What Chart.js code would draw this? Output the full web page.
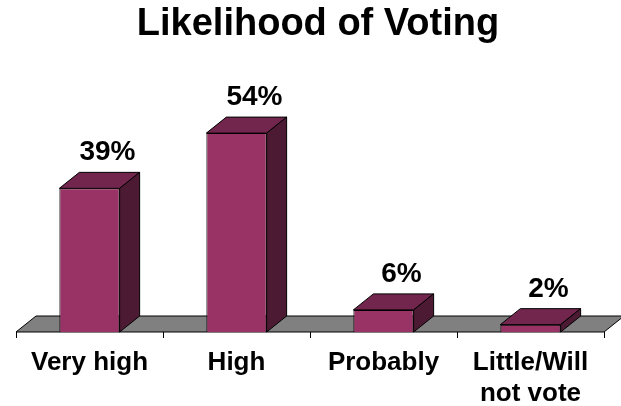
<!DOCTYPE html>
<html>
<head>
<meta charset="utf-8">
<title>Likelihood of Voting</title>
<script src="https://cdn.jsdelivr.net/npm/chart.js@4/dist/chart.umd.min.js"></script>
<style>
  html, body { margin: 0; padding: 0; background: #fff; }
  #wrap { width: 621px; height: 406px; }
</style>
</head>
<body>
<div id="wrap"><canvas id="chart"></canvas></div>
<script>
/* ---- Datos ---- */
const categories = ['Very high', 'High', 'Probably', ['Little/Will', 'not vote']];
const shares = [39, 54, 6, 2];
const yLimits = [0, 60];

/* ---- Estilo 3D ---- */
const DEPTH_X = 20;
const DEPTH_Y = -16;
const FRONT = '#993366';
const TOP = '#73264d';
const SIDE = '#4d1a33';
const FLOOR = '#808080';

function poly(ctx, pts, fill) {
  ctx.beginPath();
  ctx.moveTo(pts[0][0], pts[0][1]);
  for (let i = 1; i < pts.length; i++) ctx.lineTo(pts[i][0], pts[i][1]);
  ctx.closePath();
  ctx.fillStyle = fill;
  ctx.fill();
  ctx.stroke();
}

// suelo gris y caras laterales / superiores de las barras
const bar3d = {
  id: 'bar3d',
  beforeDatasetsDraw(chart) {
    const { ctx, chartArea: a } = chart;
    ctx.save();
    ctx.strokeStyle = '#000';
    ctx.lineWidth = 1;
    poly(ctx, [
      [a.left, a.bottom], [a.right, a.bottom],
      [a.right + DEPTH_X, a.bottom + DEPTH_Y], [a.left + DEPTH_X, a.bottom + DEPTH_Y]
    ], FLOOR);
    ctx.restore();
  },
  afterDatasetsDraw(chart) {
    const { ctx } = chart;
    const meta = chart.getDatasetMeta(0);
    ctx.save();
    ctx.strokeStyle = '#000';
    ctx.lineWidth = 1;
    ctx.lineJoin = 'round';
    meta.data.forEach(bar => {
      const l = bar.x - bar.width / 2;
      const r = bar.x + bar.width / 2;
      const y = bar.y;
      const b = bar.base;
      poly(ctx, [[l, y], [r, y], [r + DEPTH_X, y + DEPTH_Y], [l + DEPTH_X, y + DEPTH_Y]], TOP);
      poly(ctx, [[r, y], [r + DEPTH_X, y + DEPTH_Y], [r + DEPTH_X, b + DEPTH_Y], [r, b]], SIDE);
    });
    ctx.restore();
  },
  afterDraw(chart) {
    // etiquetas de porcentaje sobre cada barra
    const { ctx } = chart;
    const meta = chart.getDatasetMeta(0);
    ctx.save();
    ctx.fillStyle = '#000';
    ctx.font = 'bold 28px "Liberation Sans", Arial, sans-serif';
    ctx.textAlign = 'center';
    ctx.textBaseline = 'alphabetic';
    meta.data.forEach((bar, i) => {
      ctx.fillText(shares[i] + '%', bar.x + 18, bar.y - 28);
    });
    ctx.restore();
  }
};

Chart.defaults.font.family = '"Liberation Sans", Arial, sans-serif';
Chart.defaults.color = '#000';

new Chart(document.getElementById('chart'), {
  type: 'bar',
  data: {
    labels: categories,
    datasets: [{
      data: shares,
      backgroundColor: FRONT,
      borderColor: '#000',
      borderWidth: 1,
      barPercentage: 0.41,
      categoryPercentage: 1,
    }],
  },
  options: {
    responsive: true,
    maintainAspectRatio: false,
    animation: false,
    layout: { padding: { left: 16, right: 1, top: 0, bottom: 0 } },
    plugins: {
      legend: { display: false },
      tooltip: { enabled: false },
      title: {
        display: true,
        text: 'Likelihood of Voting',
        color: '#000',
        font: { size: 38, weight: 'bold', lineHeight: 1.2 },
        padding: { top: 2, bottom: 63.4 },
      },
    },
    scales: {
      x: {
        grid: {
          display: true,
          drawOnChartArea: false,
          drawTicks: true,
          tickLength: 6,
          color: '#000',
          offset: true,
        },
        border: { display: false },
        ticks: {
          color: '#000',
          padding: 10,
          maxRotation: 0,
          autoSkip: false,
          font: { size: 26, weight: 'bold', lineHeight: 1.17 },
        },
        afterFit(scale) { scale.height = 74; },
      },
      y: {
        position: 'right',
        min: yLimits[0],
        max: yLimits[1],
        grid: { display: false },
        border: { display: false },
        ticks: { display: false },
        afterFit(scale) { scale.width = 16; },
      },
    },
  },
  plugins: [bar3d],
});
</script>
</body>
</html>
